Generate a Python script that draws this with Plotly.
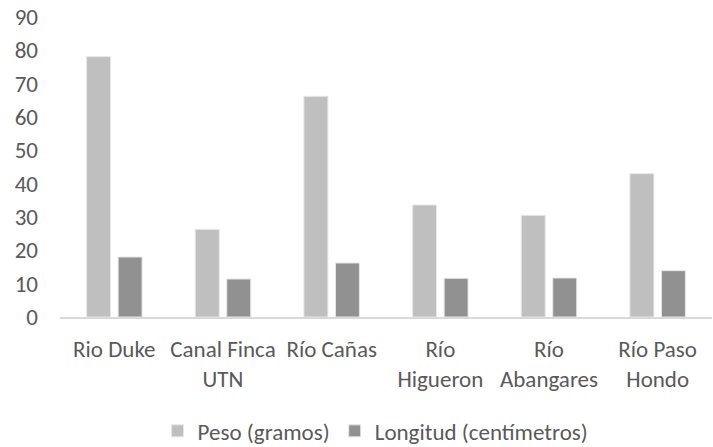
import plotly.graph_objects as go

categories = ["Rio Duke", "Canal Finca<br>UTN", "Río Cañas", "Río<br>Higueron", "Río<br>Abangares", "Río Paso<br>Hondo"]
peso = [78.1, 26.3, 66.2, 33.6, 30.5, 43.0]
longitud = [18.0, 11.4, 16.2, 11.6, 11.7, 13.9]
y_ticks = [0, 10, 20, 30, 40, 50, 60, 70, 80, 90]

FONT = "Carlito, Calibri, Lato, sans-serif"
TXT = "#595959"
FS = 23

fig = go.Figure()
fig.add_trace(go.Bar(x=categories, y=peso, name="Peso (gramos)",
                     marker=dict(color="#BFBFBF", line=dict(color="#E6E6E6", width=1))))
fig.add_trace(go.Bar(x=categories, y=longitud, name="Longitud (centímetros)",
                     marker=dict(color="#919191", line=dict(color="#E6E6E6", width=1))))

fig.update_layout(
    width=713, height=447,
    margin=dict(l=60, r=1, t=17, b=130),
    paper_bgcolor="white", plot_bgcolor="white",
    font=dict(family=FONT, size=FS, color=TXT),
    barmode="group", bargap=0.42, bargroupgap=0.24,
    showlegend=True,
    legend=dict(orientation="h", x=0.484, xanchor="center", yref="container", y=0.036, yanchor="middle",
                font=dict(size=FS, color=TXT), itemwidth=30, tracegroupgap=0),
    xaxis=dict(showgrid=False, showline=True, linecolor="#D9D9D9", linewidth=1.5,
               tickfont=dict(size=FS, color=TXT), ticks="", ticklabelstandoff=11),
    yaxis=dict(range=[0, 90], tickvals=y_ticks, showgrid=False, zeroline=False, showline=False,
               tickfont=dict(size=FS, color=TXT), ticks="", ticklabelstandoff=21),
)

fig.write_html("out.html")
